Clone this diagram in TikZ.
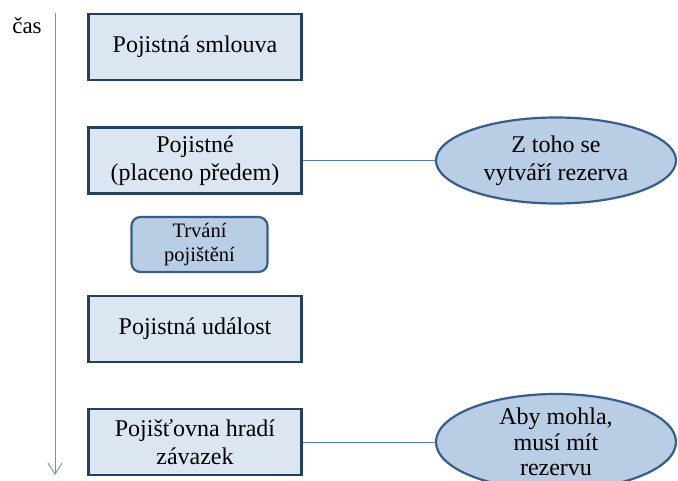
\documentclass[tikz,border=0pt]{standalone}
\usepackage{fontspec}
\setmainfont{Liberation Serif}
\usepackage{xcolor}
\usepackage{tikz}
\usetikzlibrary{shapes,arrows.meta,positioning,calc}

\definecolor{boxfill}{HTML}{DCE6F2}
\definecolor{boxline}{HTML}{243F60}
\definecolor{bubblefill}{HTML}{B9CDE5}
\definecolor{bubbleline}{HTML}{385D8A}
\definecolor{axisblue}{HTML}{4F81BD}

\tikzset{
  stagebox/.style={draw=boxline, fill=boxfill, line width=2.8pt, rectangle,
    minimum width=213pt, minimum height=66pt, inner sep=0pt, align=center,
    font=\fontsize{24}{28}\selectfont},
  phasebox/.style={draw=bubbleline, fill=bubblefill, line width=2.2pt, rectangle,
    rounded corners=9pt, minimum width=136pt, minimum height=55pt, inner sep=0pt,
    align=center, font=\fontsize{20.5}{24}\selectfont},
  notebubble/.style={draw=bubbleline, fill=bubblefill, line width=2.2pt, ellipse,
    minimum width=240pt, minimum height=86pt, inner sep=0pt, align=center,
    font=\fontsize{24}{28}\selectfont},
  linkline/.style={draw=axisblue, line width=0.9pt},
  timeaxis/.style={draw=axisblue!85, line width=0.9pt,
    -{Straight Barb[length=11pt,width=14pt,line width=0.9pt]}}
}

\begin{document}
\begin{tikzpicture}[x=1pt,y=1pt]
    \useasboundingbox (0,0) rectangle (678,481);
    \clip (0,0) rectangle (678,481);
    % time axis
    \coordinate (axistop) at (55,468);
    \coordinate (axisend) at (55,6);
    \draw[timeaxis] (axistop) -- (axisend);
    \node[font=\fontsize{23}{28}\selectfont] (cas) at (27,455) {čas};

    % stages
    \node[stagebox] (smlouva) at (195,434) {Pojistná smlouva};
    \node[stagebox] (pojistne) at (195,320.5) {Pojistné\\(placeno předem)};
    \node[phasebox] (trvani) at (199.5,236.5) {Trvání\\pojištění};
    \node[stagebox] (udalost) at (195,152) {Pojistná událost};
    \node[stagebox] (hradi) at (195,39) {Pojišťovna hradí\\závazek};

    % notes on the right
    \node[notebubble] (rezerva) at (556,320.5) {Z toho se\\vytváří rezerva};
    \node[notebubble, font=\fontsize{24}{25.5}\selectfont] (mohla) at (556,39)
      {Aby mohla,\\musí mít\\rezervu};

    \draw[linkline] (pojistne.east) -- (rezerva.west);
    \draw[linkline] (hradi.east) -- (mohla.west);
\end{tikzpicture}
\end{document}
